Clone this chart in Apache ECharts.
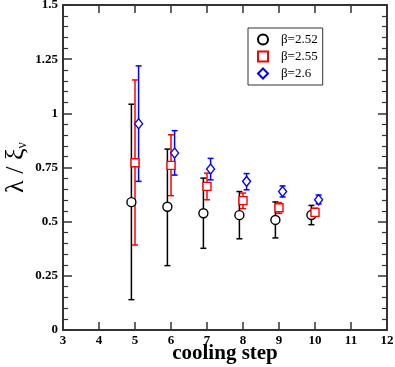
<!DOCTYPE html>
<html><head><meta charset="utf-8">
<script src="https://cdn.jsdelivr.net/npm/echarts@6/dist/echarts.min.js"></script>
<style>html,body{margin:0;padding:0;background:#fff}#c{width:395px;height:367px}</style>
</head><body><div id="c"></div>
<script>
const seriesNames = ['β=2.52', 'β=2.55', 'β=2.6'];
const x252 = [4.9, 5.9, 6.9, 7.9, 8.9, 9.9];
const y252 = [0.590, 0.569, 0.539, 0.530, 0.508, 0.531];
const lo252 = [0.140, 0.297, 0.377, 0.421, 0.425, 0.486];
const hi252 = [1.042, 0.835, 0.701, 0.639, 0.591, 0.575];
const x255 = [5, 6, 7, 8, 9, 10];
const y255 = [0.772, 0.760, 0.663, 0.597, 0.564, 0.543];
const lo255 = [0.392, 0.620, 0.601, 0.560, 0.538, 0.525];
const hi255 = [1.154, 0.901, 0.724, 0.632, 0.587, 0.562];
const x26 = [5.1, 6.1, 7.1, 8.1, 9.1, 10.1];
const y26 = [0.952, 0.817, 0.743, 0.686, 0.639, 0.601];
const lo26 = [0.686, 0.715, 0.693, 0.647, 0.614, 0.582];
const hi26 = [1.219, 0.920, 0.792, 0.722, 0.665, 0.623];

const groups = [
  {name: seriesNames[0], xs: x252, ys: y252, lo: lo252, hi: hi252, color: '#000000', symbol: 'circle', size: 9},
  {name: seriesNames[1], xs: x255, ys: y255, lo: lo255, hi: hi255, color: '#ff0000', symbol: 'rect', size: 8},
  {name: seriesNames[2], xs: x26, ys: y26, lo: lo26, hi: hi26, color: '#0000ff', symbol: 'diamond', size: 9}
];

const axisColor = '#333';
const labelFont = {fontFamily: 'Liberation Serif', fontWeight: 'bold', fontSize: 13, color: '#000'};

function errSeries(g) {
  return {
    type: 'custom',
    xAxisIndex: 0, yAxisIndex: 0,
    silent: true,
    data: g.xs.map((x, i) => [x, g.lo[i], g.hi[i]]),
    renderItem: function (params, api) {
      const lo = api.coord([api.value(0), api.value(1)]);
      const hi = api.coord([api.value(0), api.value(2)]);
      const w = 3;
      const style = {stroke: g.color, lineWidth: 1.5};
      return {
        type: 'group',
        children: [
          {type: 'line', shape: {x1: lo[0], y1: lo[1], x2: hi[0], y2: hi[1]}, style: style},
          {type: 'line', shape: {x1: lo[0] - w, y1: lo[1], x2: lo[0] + w, y2: lo[1]}, style: style},
          {type: 'line', shape: {x1: hi[0] - w, y1: hi[1], x2: hi[0] + w, y2: hi[1]}, style: style}
        ]
      };
    },
    z: 2
  };
}

function ptSeries(g) {
  return {
    type: 'scatter',
    name: g.name,
    xAxisIndex: 0, yAxisIndex: 0,
    data: g.xs.map((x, i) => [x, g.ys[i]]),
    symbol: g.symbol,
    symbolSize: g.symbol === 'diamond' ? [8, 10] : g.size,
    itemStyle: {color: '#fff', borderColor: g.color, borderWidth: 1.4, opacity: 1},
    z: 3
  };
}

const series = [];
groups.forEach(g => series.push(errSeries(g)));
groups.forEach(g => series.push(ptSeries(g)));

const chart = echarts.init(document.getElementById('c'), null, {renderer: 'canvas'});
chart.setOption({
  animation: false,
  backgroundColor: '#fff',
  grid: {left: 63, right: 8, top: 5, bottom: 37, containLabel: false, outerBoundsMode: 'none'},
  legend: {
    orient: 'vertical', left: 248, top: 28,
    data: seriesNames,
    borderColor: '#333', borderWidth: 1,
    padding: [5, 5, 5, 9],
    itemGap: 4, itemWidth: 10, itemHeight: 10,
    textStyle: {fontFamily: 'Liberation Serif', fontSize: 13, color: '#000', padding: [0, 0, 0, 8]}
  },
  xAxis: [
    {
      type: 'value', min: 3, max: 12, interval: 1, position: 'bottom',
      name: 'cooling step', nameLocation: 'middle', nameGap: 13, nameMoveOverlap: false,
      nameTextStyle: {fontFamily: 'Liberation Serif', fontWeight: 'bold', fontSize: 21, color: '#000', verticalAlign: 'top'},
      axisLine: {show: true, onZero: false, lineStyle: {color: axisColor, width: 2}},
      axisTick: {show: true, inside: true, length: 8, lineStyle: {color: axisColor, width: 1.5}},
      axisLabel: Object.assign({margin: 4}, labelFont),
      splitLine: {show: false}
    },
    {
      type: 'value', min: 3, max: 12, interval: 1, position: 'top',
      axisLine: {show: true, onZero: false, lineStyle: {color: axisColor, width: 2}},
      axisTick: {show: true, inside: true, length: 8, lineStyle: {color: axisColor, width: 1.5}},
      axisLabel: {show: false},
      splitLine: {show: false}
    }
  ],
  yAxis: [
    {
      type: 'value', min: 0, max: 1.5, interval: 0.25, position: 'left',
      name: 'λ / ξ{sub|ν}', nameLocation: 'middle', nameGap: 34, nameRotate: 90, nameMoveOverlap: false,
      nameTextStyle: {fontFamily: 'Liberation Serif', fontSize: 26, color: '#000',
        rich: {sub: {fontFamily: 'Liberation Serif', fontSize: 14, color: '#000', verticalAlign: 'bottom', padding: [12, 0, 0, 0]}}},
      axisLine: {show: true, onZero: false, lineStyle: {color: axisColor, width: 2}},
      axisTick: {show: true, inside: true, length: 9, lineStyle: {color: axisColor, width: 1.5}},
      minorTick: {show: true, splitNumber: 5, length: 5, lineStyle: {color: axisColor, width: 1.2}},
      axisLabel: Object.assign({margin: 5}, labelFont),
      splitLine: {show: false}
    },
    {
      type: 'value', min: 0, max: 1.5, interval: 0.25, position: 'right',
      axisLine: {show: true, onZero: false, lineStyle: {color: axisColor, width: 2}},
      axisTick: {show: true, inside: true, length: 9, lineStyle: {color: axisColor, width: 1.5}},
      minorTick: {show: true, splitNumber: 5, length: 5, lineStyle: {color: axisColor, width: 1.2}},
      axisLabel: {show: false},
      splitLine: {show: false}
    }
  ],
  series: series
});
</script>
</body></html>
